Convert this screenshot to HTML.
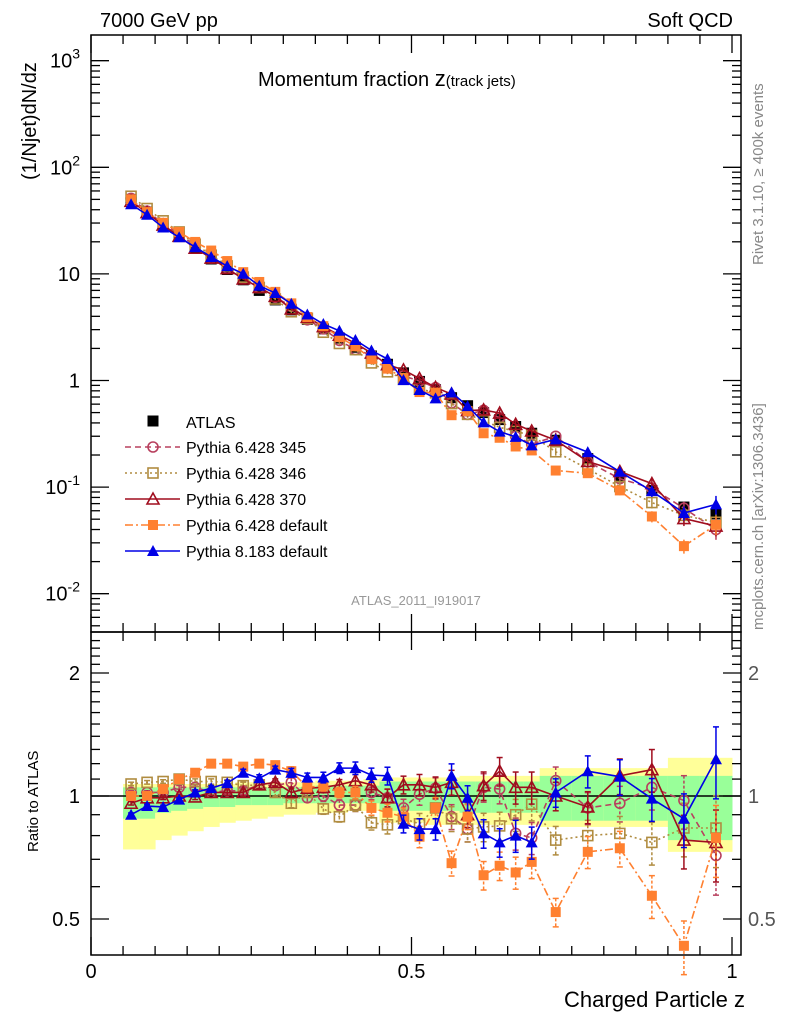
<!DOCTYPE html>
<html><head><meta charset="utf-8"><style>
body{margin:0;background:#fff}
svg{display:block;font-family:"Liberation Sans",sans-serif}
</style></head><body>
<svg id="c" width="786" height="1024" viewBox="0 0 786 1024" xmlns="http://www.w3.org/2000/svg">
<text x="100" y="27" font-size="20">7000 GeV pp</text>
<text x="733" y="27" font-size="20" text-anchor="end">Soft QCD</text>
<text x="258" y="86" font-size="20">Momentum fraction <tspan font-size="22">z</tspan><tspan font-size="15">(track jets)</tspan></text>
<text transform="translate(36,180) rotate(-90)" font-size="20">(1/Njet)dN/dz</text>
<text transform="translate(763,265) rotate(-90)" font-size="15" fill="#888">Rivet 3.1.10, ≥ 400k events</text>
<text transform="translate(763,630) rotate(-90)" font-size="15" fill="#888">mcplots.cern.ch [arXiv:1306.3436]</text>
<text x="416" y="605" font-size="13" fill="#999" text-anchor="middle">ATLAS_2011_I919017</text>
<text transform="translate(38,852) rotate(-90)" font-size="15">Ratio to ATLAS</text>
<text x="745" y="1007" font-size="22" text-anchor="end">Charged Particle z</text>
<g id="bands"></g><g id="grid"></g><g id="series"></g><g id="legend"></g>
</svg>
<script>
const zc = [0.0625,0.0875,0.1125,0.1375,0.1625,0.1875,0.2125,0.2375,0.2625,0.2875,0.3125,0.3375,0.3625,0.3875,0.4125,0.4375,0.4625,0.4875,0.5125,0.5375,0.5625,0.5875,0.6125,0.6375,0.6625,0.6875,0.725,0.775,0.825,0.875,0.925,0.975];
const zw = [0.025,0.025,0.025,0.025,0.025,0.025,0.025,0.025,0.025,0.025,0.025,0.025,0.025,0.025,0.025,0.025,0.025,0.025,0.025,0.025,0.025,0.025,0.025,0.025,0.025,0.025,0.05,0.05,0.05,0.05,0.05,0.05];
const atlas = [50,38,29,22.5,17.5,13.8,11.0,8.8,7.0,5.7,4.6,3.75,3.05,2.5,2.05,1.7,1.42,1.18,0.98,0.82,0.69,0.58,0.5,0.43,0.37,0.32,0.275,0.185,0.125,0.093,0.065,0.056];
const r345 = [1.02,1.02,1.02,1.05,1.05,1.02,1.03,1.03,1.065,1.06,1.08,0.99,1.0,0.95,0.95,1.02,0.99,0.935,1.01,1.045,0.89,0.83,1.05,1.04,0.81,0.79,1.09,0.935,0.96,1.05,0.975,0.715];
const r346 = [1.07,1.08,1.085,1.1,1.085,1.085,1.08,1.06,1.065,1.02,0.96,1.02,0.93,0.89,0.95,0.86,0.85,0.88,0.855,0.935,0.88,0.83,0.84,0.845,0.9,0.955,0.78,0.8,0.81,0.77,0.835,0.835];
const r370 = [0.96,0.99,0.99,1.0,0.995,1.02,1.02,1.02,1.065,1.08,1.02,1.045,1.05,1.065,1.09,1.065,0.99,1.065,1.065,1.05,1.08,0.9,1.06,1.15,1.05,1.05,1.0,0.94,1.12,1.16,0.78,0.77];
const rdef6 = [1.0,1.0,1.04,1.1,1.14,1.2,1.2,1.18,1.2,1.19,1.15,1.05,1.06,1.02,1.02,0.935,0.91,0.89,0.795,0.935,0.685,0.89,0.64,0.675,0.65,0.69,0.52,0.73,0.745,0.57,0.43,0.79];
const rpy8 = [0.9,0.945,0.94,0.98,1.02,1.045,1.075,1.14,1.105,1.16,1.14,1.11,1.11,1.17,1.17,1.125,1.12,0.855,0.83,0.83,1.12,0.99,0.81,0.77,0.8,0.77,1.02,1.15,1.115,0.985,0.88,1.23];
const relErr = [0.01,0.01,0.01,0.01,0.015,0.015,0.015,0.02,0.02,0.02,0.025,0.025,0.03,0.03,0.035,0.04,0.05,0.05,0.06,0.06,0.07,0.07,0.08,0.08,0.09,0.09,0.08,0.09,0.1,0.12,0.15,0.2];
const yLo = [0.74,0.74,0.78,0.8,0.82,0.84,0.86,0.87,0.88,0.89,0.9,0.9,0.91,0.91,0.92,0.92,0.86,0.86,0.86,0.85,0.85,0.85,0.85,0.85,0.85,0.85,0.84,0.84,0.84,0.84,0.73,0.73];
const yHi = [1.07,1.07,1.07,1.07,1.07,1.07,1.07,1.08,1.08,1.08,1.08,1.08,1.09,1.09,1.09,1.1,1.11,1.11,1.11,1.11,1.11,1.12,1.12,1.12,1.12,1.12,1.17,1.17,1.17,1.17,1.24,1.24];
const gLo = [0.88,0.88,0.91,0.92,0.93,0.94,0.94,0.95,0.95,0.95,0.96,0.96,0.96,0.96,0.96,0.96,0.92,0.92,0.92,0.92,0.92,0.91,0.91,0.91,0.91,0.91,0.87,0.87,0.87,0.87,0.78,0.78];
const gHi = [1.05,1.05,1.05,1.05,1.05,1.05,1.05,1.05,1.05,1.05,1.05,1.05,1.06,1.06,1.06,1.06,1.085,1.085,1.085,1.085,1.085,1.085,1.085,1.085,1.085,1.085,1.12,1.12,1.12,1.12,1.12,1.12];
const mainTickLabels = ["10^-2","10^-1","1","10","10^2","10^3"];
const ratioTickVals = [0.5,1,2];
const ratioTickLabels = ["0.5","1","2"];
const xTickVals = [0,0.5,1];
const xTickLabels = ["0","0.5","1"];

const NS="http://www.w3.org/2000/svg";
const X0=91,X1=741,XW=641, MT=35,MB=632,RB=955;
const sx=z=>X0+z*XW;
const sy=v=>380.5-106.6*Math.log10(v);
const sr=r=>796-177.5*Math.log(r);
function mk(tag,attrs,parent){const e=document.createElementNS(NS,tag);for(const k in attrs)e.setAttribute(k,attrs[k]);parent.appendChild(e);return e;}
const svg=document.getElementById('c');
const gB=document.getElementById('bands'),gG=document.getElementById('grid'),gS=document.getElementById('series'),gL=document.getElementById('legend');

// bands
zc.forEach((z,i)=>{
 const x=sx(z-zw[i]/2),w=zw[i]*XW;
 let e=mk('rect',{x:x,y:sr(yHi[i]),width:w+0.5,height:sr(yLo[i])-sr(yHi[i]),fill:'#ffff99'},gB);
 
 
 e=mk('rect',{x:x,y:sr(gHi[i]),width:w+0.5,height:sr(gLo[i])-sr(gHi[i]),fill:'#99ff99'},gB);
 
 
});
// frames
let f=mk('rect',{x:X0,y:MT,width:X1-X0,height:MB-MT,fill:'none',stroke:'#000','stroke-width':1.5},gG);


f=mk('rect',{x:X0,y:MB,width:X1-X0,height:RB-MB,fill:'none',stroke:'#000','stroke-width':1.5},gG);


let ul=mk('line',{x1:X0,x2:X1,y1:sr(1),y2:sr(1),stroke:'#000','stroke-width':1.5},gG);


// main log ticks
for(let d=-3;d<=3;d++){for(let m=1;m<10;m++){const v=m*Math.pow(10,d);const y=sy(v);if(y<MT||y>MB)continue;const L=m==1?18:9;
 mk('line',{x1:X0,x2:X0+L,y1:y,y2:y,stroke:'#000','stroke-width':1.3},gG);mk('line',{x1:X1-L,x2:X1,y1:y,y2:y,stroke:'#000','stroke-width':1.3},gG);}}
mainTickLabels.forEach((lab,i)=>{const y=sy(Math.pow(10,i-2));let t;
 if(lab.includes('^')){const p=lab.split('^');t=mk('text',{x:80,y:y+7,'font-size':20,'text-anchor':'end'},gG);t.innerHTML=p[0]+'<tspan font-size="14" dy="-9">'+p[1]+'</tspan>';}
 else{t=mk('text',{x:80,y:y+7,'font-size':20,'text-anchor':'end'},gG);t.textContent=lab;}
 
 });
// ratio ticks
for(let v=0.4;v<=2.5;v+=0.1){const y=sr(v);if(y<MB||y>RB)continue;const maj=[0.5,1,2].some(a=>Math.abs(a-v)<1e-6);const L=maj?18:9;
 mk('line',{x1:X0,x2:X0+L,y1:y,y2:y,stroke:'#000','stroke-width':1.3},gG);mk('line',{x1:X1-L,x2:X1,y1:y,y2:y,stroke:'#000','stroke-width':1.3},gG);}
ratioTickVals.forEach((v,i)=>{const y=sr(v)+7;
 let t=mk('text',{x:80,y:y,'font-size':20,'text-anchor':'end'},gG);t.textContent=ratioTickLabels[i];
 
 
 t=mk('text',{x:748,y:y,'font-size':20,fill:'#555'},gG);t.textContent=ratioTickLabels[i];
 
 });
// x ticks
for(let k=0;k<=20;k++){const z=k*0.05,x=sx(z);const L=(k%10==0)?18:9;
 [[MT,1],[MB,-1],[MB,1],[RB,-1]].forEach(([y0,d])=>mk('line',{x1:x,x2:x,y1:y0,y2:y0+d*L,stroke:'#000','stroke-width':1.3},gG));}
xTickVals.forEach((v,i)=>{let t=mk('text',{x:sx(v),y:978,'font-size':20,'text-anchor':'middle'},gG);t.textContent=xTickLabels[i];
 
 });

// markers
function marker(type,x,y,col,s,p){
 if(type=='sqf')return mk('rect',{x:x-s/2,y:y-s/2,width:s,height:s,fill:col},p);
 if(type=='sqo')return mk('rect',{x:x-s/2,y:y-s/2,width:s,height:s,fill:'none',stroke:col,'stroke-width':1.6},p);
 if(type=='cir')return mk('circle',{cx:x,cy:y,r:s/2,fill:'none',stroke:col,'stroke-width':1.6},p);
 if(type=='trio')return mk('polygon',{points:`${x},${y-s/2-1} ${x-s/2-1},${y+s/2} ${x+s/2+1},${y+s/2}`,fill:'none',stroke:col,'stroke-width':1.6},p);
 if(type=='trif')return mk('polygon',{points:`${x},${y-s/2-1} ${x-s/2-1},${y+s/2} ${x+s/2+1},${y+s/2}`,fill:col},p);
}
const series=[
 {name:'Pythia 6.428 345',r:r345,col:'#b8405e',dash:'6,4',m:'cir',key:'pythia-6428-345'},
 {name:'Pythia 6.428 346',r:r346,col:'#b08c40',dash:'2,3',m:'sqo',key:'pythia-6428-346'},
 {name:'Pythia 6.428 370',r:r370,col:'#a00d1e',dash:'',m:'trio',key:'pythia-6428-370'},
 {name:'Pythia 6.428 default',r:rdef6,col:'#ff8030',dash:'8,3,2,3',m:'sqf',key:'pythia-6428-default'},
 {name:'Pythia 8.183 default',r:rpy8,col:'#0000e6',dash:'',m:'trif',key:'pythia-8183-default'}];

// ATLAS main
const ga=mk('g',{},gS);


zc.forEach((z,i)=>{const e=marker('sqf',sx(z),sy(atlas[i]),'#000',11,ga);
 
 });

series.forEach(s=>{
 const g=mk('g',{},gS);
 
 
 const vals=zc.map((z,i)=>atlas[i]*s.r[i]);
 const pm=zc.map((z,i)=>sx(z)+','+sy(vals[i])).join(' ');
 const pr=zc.map((z,i)=>sx(z)+','+Math.min(RB,Math.max(MB,sr(s.r[i])))).join(' ');
 let l=mk('polyline',{points:pm,fill:'none',stroke:s.col,'stroke-width':1.6,'stroke-dasharray':s.dash},g);
 
 
 l=mk('polyline',{points:pr,fill:'none',stroke:s.col,'stroke-width':1.6,'stroke-dasharray':s.dash},g);
 
 
 zc.forEach((z,i)=>{const x=sx(z);
  const v=vals[i],e=relErr[i];
  mk('line',{x1:x,x2:x,y1:sy(v*(1+e)),y2:sy(v*(1-e)),stroke:s.col,'stroke-width':1.5},g);
  const r=s.r[i],y1=sr(r*(1+e)),y2=sr(r*(1-e));
  mk('line',{x1:x,x2:x,y1:y1,y2:y2,stroke:s.col,'stroke-width':1.5,'stroke-dasharray':s.dash?'3,2':''},g);
  mk('line',{x1:x-3,x2:x+3,y1:y1,y2:y1,stroke:s.col,'stroke-width':1.5},g);
  mk('line',{x1:x-3,x2:x+3,y1:y2,y2:y2,stroke:s.col,'stroke-width':1.5},g);
  let m=marker(s.m,x,sy(v),s.col,10,g);
  
  
  m=marker(s.m,x,sr(r),s.col,10,g);
  
  
 });
});

// legend
const lg=mk('g',{},gL);


let ae=marker('sqf',153,421,'#000',11,lg);


let at=mk('text',{x:186,y:428,'font-size':16},lg);at.textContent='ATLAS';


series.forEach((s,i)=>{const y=447+i*26;
 const e=mk('line',{x1:125,x2:180,y1:y,y2:y,stroke:s.col,'stroke-width':1.6,'stroke-dasharray':s.dash},lg);
 
 
 const m=marker(s.m,153,y,s.col,10,lg);
 
 
 const t=mk('text',{x:186,y:y+6,'font-size':16},lg);t.textContent=s.name;
 
 
});
</script>
</body></html>
